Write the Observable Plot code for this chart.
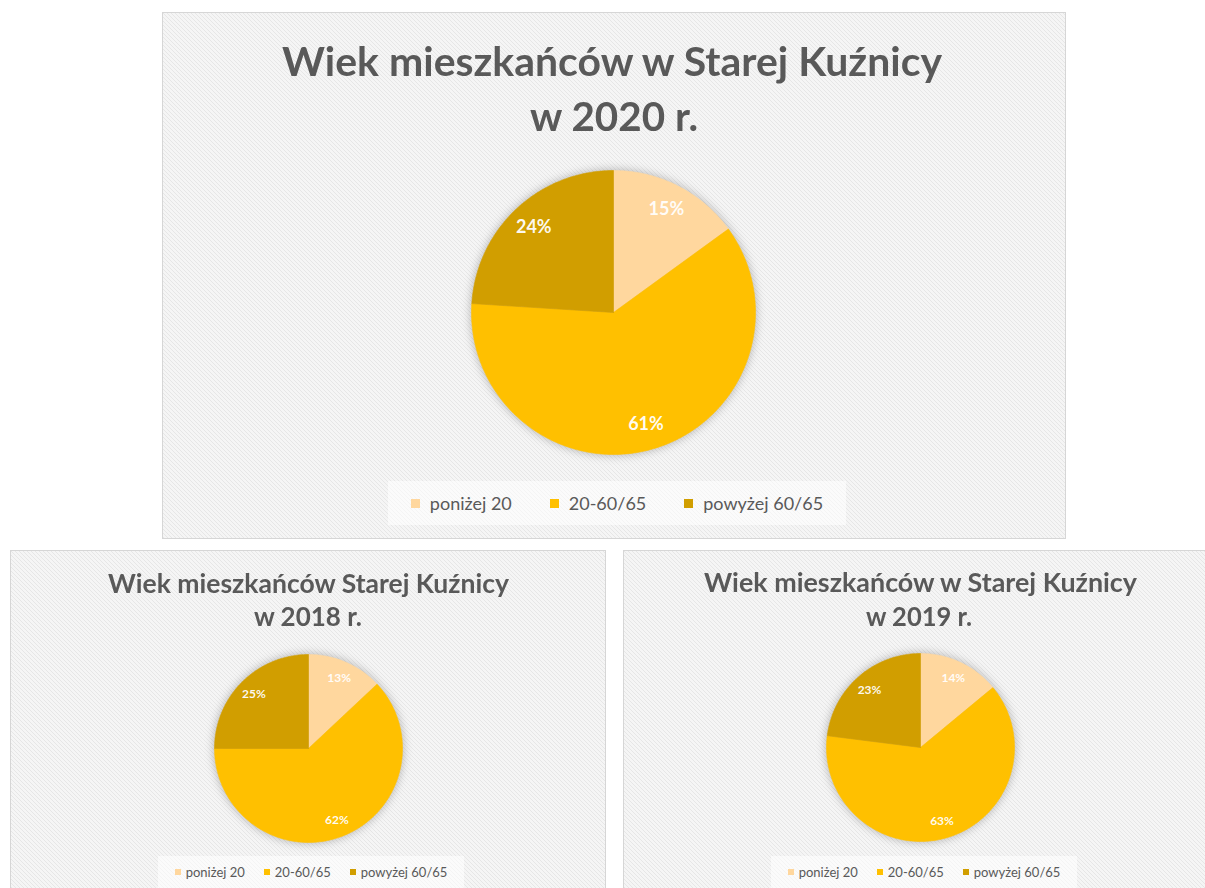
<!DOCTYPE html>
<html>
<head>
<meta charset="utf-8">
<script src="https://cdn.jsdelivr.net/npm/d3@7"></script>
<script src="https://cdn.jsdelivr.net/npm/@observablehq/plot@0.6"></script>
<style>
  html, body { margin: 0; padding: 0; }
  body { width: 1205px; height: 888px; overflow: hidden; position: relative; background: #ffffff; font-family: Lato, "Open Sans", sans-serif; }
  .panel { position: absolute; box-sizing: border-box; border: 1px solid #d6d6d6;
    background-color: #f4f4f4;
    background-image: url("data:image/svg+xml,%3Csvg xmlns='http://www.w3.org/2000/svg' width='4' height='4' shape-rendering='crispEdges'%3E%3Crect width='4' height='4' fill='%23f5f5f5'/%3E%3Crect x='0' y='0' width='1' height='1' fill='%23e6e6e6'/%3E%3Crect x='1' y='1' width='1' height='1' fill='%23e6e6e6'/%3E%3Crect x='2' y='2' width='1' height='1' fill='%23e6e6e6'/%3E%3Crect x='3' y='3' width='1' height='1' fill='%23e6e6e6'/%3E%3C/svg%3E");
    background-size: 4px 4px; }
  .txt { position: absolute; white-space: nowrap; color: #595959; transform-origin: 0 0; line-height: normal; }
  .mk { display: inline-block; width: 0; height: 0; vertical-align: baseline; }
  .legend { position: absolute; display: flex; align-items: center; white-space: nowrap; color: #595959; background: rgba(255,255,255,0.55); }
  .legend .item { display: flex; align-items: center; }
  .chart { position: absolute; }
  .chart svg { overflow: visible; }
</style>
</head>
<body>
<script>
// ---- data ----
const categories = ["poniżej 20", "20-60/65", "powyżej 60/65"];
const colors = ["#FFD79E", "#FFC000", "#D19E00"];
const years = [2020, 2018, 2019];
const values2020 = [15, 61, 24];
const values2018 = [13, 62, 25];
const values2019 = [14, 63, 23];
const titleLine1 = {
  2020: "Wiek mieszkańców w Starej Kuźnicy",
  2018: "Wiek mieszkańców Starej Kuźnicy",
  2019: "Wiek mieszkańców w Starej Kuźnicy"
};
const titleLine2 = { 2020: "w 2020 r.", 2018: "w 2018 r.", 2019: "w 2019 r." };
const valuesByYear = { 2020: values2020, 2018: values2018, 2019: values2019 };

// ---- layout (styling only) ----
const panels = [
  { left: 162, top: 12, width: 904, height: 527 },
  { left: 10, top: 550, width: 596, height: 345 },
  { left: 623, top: 550, width: 600, height: 345 }
];
const layout = {
  2020: { cx: 613, cy: 312, r: 142, label: 18,
          t1: { cx: 612, base: 76, size: 40, w: 660 }, t2: { cx: 614, base: 131, size: 40, w: 168 },
          lg: { cx: 617, base: 510, size: 18, sw: 9, gap: 10, igap: 38 } },
  2018: { cx: 308, cy: 748, r: 94, label: 12,
          t1: { cx: 308, base: 593, size: 27, w: 401 }, t2: { cx: 308, base: 626, size: 27, w: 108 },
          lg: { cx: 311, base: 877, size: 13, sw: 6, gap: 5, igap: 19 } },
  2019: { cx: 920, cy: 747, r: 94, label: 12,
          t1: { cx: 920, base: 592, size: 27, w: 433 }, t2: { cx: 919, base: 626, size: 27, w: 106 },
          lg: { cx: 924, base: 877, size: 13, sw: 6, gap: 5, igap: 19 } }
};

for (const p of panels) {
  const d = document.createElement("div");
  d.className = "panel";
  Object.assign(d.style, { left: p.left + "px", top: p.top + "px", width: p.width + "px", height: p.height + "px" });
  document.body.appendChild(d);
}

function placeText(text, t, weight) {
  const d = document.createElement("div");
  d.className = "txt";
  d.style.fontSize = t.size + "px";
  d.style.fontWeight = weight;
  d.textContent = text;
  const m = document.createElement("span");
  m.className = "mk";
  d.appendChild(m);
  d.style.left = "0px"; d.style.top = "0px";
  document.body.appendChild(d);
  const w = d.getBoundingClientRect().width;
  const baseOff = m.getBoundingClientRect().top - d.getBoundingClientRect().top;
  const s = t.w / w;
  d.style.transform = `scaleX(${s})`;
  d.style.left = (t.cx - t.w / 2) + "px";
  d.style.top = (t.base - baseOff) + "px";
}

function placeLegend(lg) {
  const d = document.createElement("div");
  d.className = "legend";
  d.style.fontSize = lg.size + "px";
  d.style.gap = lg.igap + "px";
  d.style.padding = `${Math.round(lg.size * 0.6)}px ${Math.round(lg.size * 1.3)}px`;
  categories.forEach((c, i) => {
    const it = document.createElement("div");
    it.className = "item";
    it.style.gap = lg.gap + "px";
    const sw = document.createElement("span");
    Object.assign(sw.style, { width: lg.sw + "px", height: lg.sw + "px", background: colors[i], display: "inline-block" });
    const tx = document.createElement("span");
    tx.textContent = c;
    it.appendChild(sw); it.appendChild(tx);
    d.appendChild(it);
  });
  const m = document.createElement("span");
  m.className = "mk";
  d.lastChild.lastChild.appendChild(m);
  d.style.left = "0px"; d.style.top = "0px";
  document.body.appendChild(d);
  const r = d.getBoundingClientRect();
  const baseOff = m.getBoundingClientRect().top - r.top;
  d.style.left = (lg.cx - r.width / 2) + "px";
  d.style.top = (lg.base - baseOff) + "px";
}

function pieChart(values, L) {
  const pad = 14;
  const rows = categories.map((c, i) => ({ category: c, value: values[i] }));
  const arcs = d3.pie().sort(null).value(d => d.value)(rows);
  const pts = [];
  const labels = [];
  for (const a of arcs) {
    const n = Math.max(2, Math.ceil((a.endAngle - a.startAngle) / (Math.PI / 180)));
    pts.push({ category: a.data.category, x: 0, y: 0 });
    for (let k = 0; k <= n; k++) {
      const ang = a.startAngle + (a.endAngle - a.startAngle) * k / n;
      pts.push({ category: a.data.category, x: Math.sin(ang), y: Math.cos(ang) });
    }
    pts.push({ category: a.data.category, x: 0, y: 0 });
    const mid = (a.startAngle + a.endAngle) / 2;
    labels.push({ category: a.data.category, x: 0.82 * Math.sin(mid), y: 0.82 * Math.cos(mid), text: a.data.value + "%" });
  }
  const size = 2 * L.r + 2 * pad;
  const svg = Plot.plot({
    width: size, height: size, margin: pad,
    x: { domain: [-1, 1], axis: null },
    y: { domain: [-1, 1], axis: null },
    color: { domain: categories, range: colors },
    style: { background: "transparent", fontFamily: "Lato, sans-serif", overflow: "visible" },
    marks: [
      Plot.line(pts, { x: "x", y: "y", z: "category", fill: "category", stroke: "category", strokeWidth: 0.6, curve: "linear" }),
      Plot.text(labels, { x: "x", y: "y", text: "text", fill: "white", fillOpacity: 0.95, fontSize: L.label, fontWeight: "bold" })
    ]
  });
  const g = svg.querySelector('g[aria-label="line"]');
  if (g) g.style.filter = "drop-shadow(0px 0px 5px rgba(0,0,0,0.28))";
  const wrap = document.createElement("div");
  wrap.className = "chart";
  wrap.style.left = (L.cx - L.r - pad) + "px";
  wrap.style.top = (L.cy - L.r - pad) + "px";
  wrap.appendChild(svg);
  document.body.appendChild(wrap);
}

function build() {
  for (const y of years) {
    const L = layout[y];
    placeText(titleLine1[y], L.t1, 700);
    placeText(titleLine2[y], L.t2, 700);
    pieChart(valuesByYear[y], L);
    placeLegend(L.lg);
  }
}
if (document.fonts && document.fonts.ready) {
  document.fonts.load("700 20px Lato").then(() => document.fonts.load("400 20px Lato")).then(build, build);
} else build();
</script>
</body>
</html>
